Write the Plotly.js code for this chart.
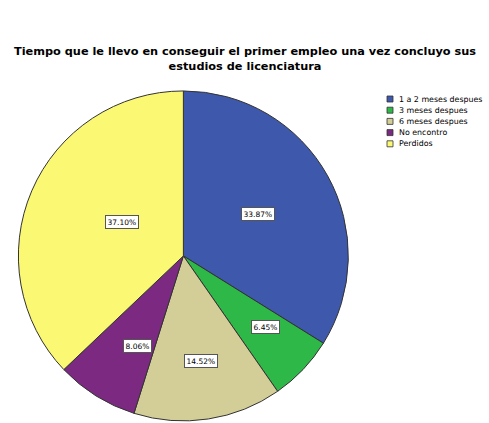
<!DOCTYPE html>
<html><head><meta charset="utf-8">
<script src="https://cdn.plot.ly/plotly-3.0.1.min.js"></script>
<style>body{margin:0;background:#fff}#c{width:489px;height:423px}</style>
</head><body><div id="c"></div>
<script>
const categories = ["1 a 2 meses despues", "3 meses despues", "6 meses despues", "No encontro", "Perdidos"];
const counts = [21, 4, 9, 5, 23];
const colors = ["#3E58AC", "#2EB848", "#D3CE97", "#7C2A81", "#FBF873"];
const titleText = "Tiempo que le llevo en conseguir el primer empleo una vez concluyo sus<br>estudios de licenciatura";

const FONT = "DejaVu Sans, Verdana, sans-serif";
const dom = {x: [0.035, 0.715], y: [0.005, 0.785]};
const W = 489, H = 423;
const total = counts.reduce((a, b) => a + b, 0);

// percentage label positions derived from the data (mid-angle of each slice)
const cx = (dom.x[0] + dom.x[1]) / 2, cy = (dom.y[0] + dom.y[1]) / 2;
const R = Math.min((dom.x[1] - dom.x[0]) * W, (dom.y[1] - dom.y[0]) * H) / 2;
let cum = 0;
const annotations = counts.map((v, i) => {
  const frac = v / total;
  const mid = (cum + frac / 2) * 2 * Math.PI;
  cum += frac;
  const rr = frac > 0.25 ? 0.52 * R : 0.69 * R;
  return {
    x: cx + rr * Math.sin(mid) / W,
    y: cy + rr * Math.cos(mid) / H,
    xref: "paper", yref: "paper", showarrow: false,
    text: (frac * 100).toFixed(2) + "%",
    font: {family: FONT, size: 7.5, color: "#000"},
    bgcolor: "#ffffff", bordercolor: "#555", borderwidth: 1, borderpad: 1.5
  };
});

// compact legend built from categories / colors
const legX = 387 / W, legY0 = 1 - 99 / H, legStep = 11.2 / H, sq = 6;
const shapes = [];
categories.forEach((c, i) => {
  const yc = legY0 - i * legStep;
  shapes.push({
    type: "rect", xref: "paper", yref: "paper",
    x0: legX, x1: legX + sq / W, y0: yc - sq / 2 / H, y1: yc + sq / 2 / H,
    fillcolor: colors[i], line: {color: "#333", width: 0.8}
  });
  annotations.push({
    x: legX + (sq + 4) / W, y: yc, xref: "paper", yref: "paper",
    xanchor: "left", yanchor: "middle", showarrow: false,
    text: c, font: {family: FONT, size: 7.9, color: "#000"}
  });
});

Plotly.newPlot("c", [{
  type: "pie",
  labels: categories,
  values: counts,
  sort: false,
  direction: "clockwise",
  rotation: 0,
  textinfo: "none",
  hoverinfo: "none",
  marker: {colors: colors, line: {color: "#333", width: 1}},
  domain: dom
}], {
  width: W, height: H,
  margin: {l: 0, r: 0, t: 0, b: 0},
  paper_bgcolor: "#fff",
  title: {
    text: "<b>" + titleText + "</b>",
    x: 0.501, xanchor: "center", y: 1 - 55 / H, yanchor: "middle",
    font: {family: FONT, size: 11.3, color: "#000"}
  },
  showlegend: false,
  shapes: shapes,
  annotations: annotations
}, {displayModeBar: false, staticPlot: true});
</script>
</body></html>
